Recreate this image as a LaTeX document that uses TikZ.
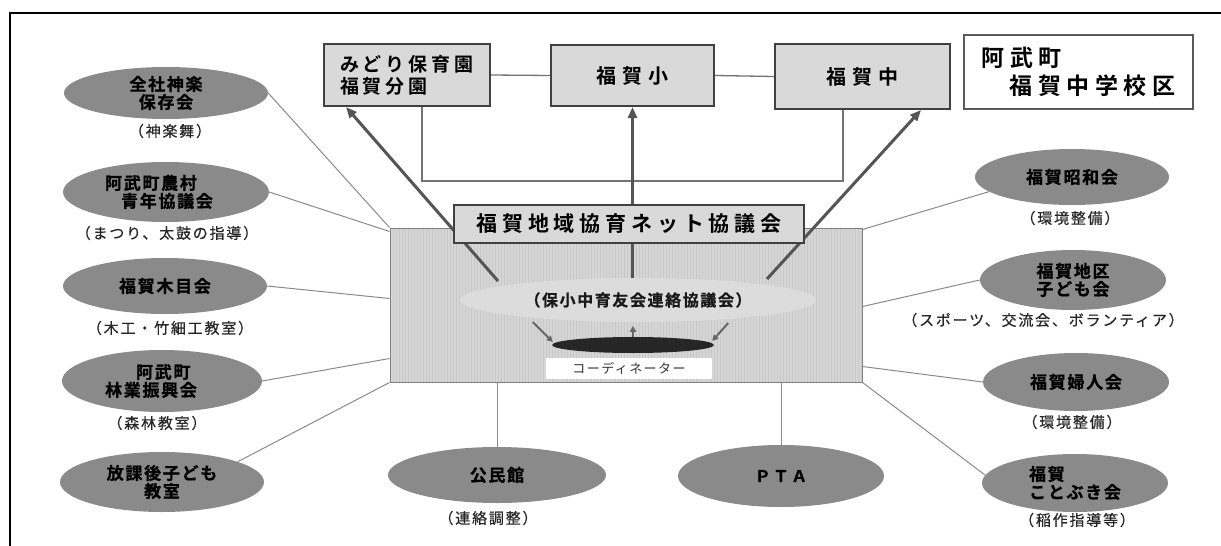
\documentclass[tikz,border=0pt]{standalone}
\usepackage{fontspec}
\usetikzlibrary{arrows.meta,shapes.geometric,patterns,calc}
\newfontfamily\jpR{Noto Sans CJK JP}
\newfontfamily\jpB{Noto Sans CJK JP Bold}
\newcommand\fBoxA{\jpB\fontsize{19}{22}\selectfont\addfontfeature{LetterSpace=21}}
\newcommand\fBoxB{\jpB\fontsize{20}{22}\selectfont\addfontfeature{LetterSpace=28}}
\newcommand\fTitle{\jpB\fontsize{23}{28}\selectfont\addfontfeature{LetterSpace=24}}
\newcommand\fNet{\jpB\fontsize{21}{22}\selectfont\addfontfeature{LetterSpace=23}}
\newcommand\fEll{\jpB\fontsize{17}{18}\selectfont\addfontfeature{LetterSpace=10,FakeBold=0.8}}
\newcommand\fLab{\jpR\fontsize{15}{16}\selectfont\addfontfeature{LetterSpace=12,FakeBold=0.5}}
\newcommand\fLight{\jpB\fontsize{16}{18}\selectfont\addfontfeature{LetterSpace=10,FakeBold=0.8}}
\newcommand\fCoord{\jpR\fontsize{13}{16}\selectfont\addfontfeature{LetterSpace=11}}
\definecolor{ellgray}{HTML}{8A8A8A}
\definecolor{boxgray}{HTML}{D9D9D9}
\definecolor{boxline}{HTML}{404040}
\definecolor{hatchbg}{HTML}{D6D6D6}
\definecolor{hatchln}{HTML}{C8C8C8}
\definecolor{lightell}{HTML}{DCDCDC}
\definecolor{conn}{HTML}{8A8A8A}
\definecolor{arrowc}{HTML}{555555}
\begin{document}
\begin{tikzpicture}[x=1pt,y=-1pt,
  ell/.style={ellipse, fill=ellgray, draw=none, inner sep=0pt, text=black, font=\fEll},
  lab/.style={inner sep=0pt, text=black!85, font=\fLab},
  sbox/.style={rectangle, fill=boxgray, draw=boxline, line width=2pt, inner sep=0pt},
  conline/.style={draw=conn, line width=1pt},
  loopline/.style={draw=black!55, line width=1.3pt},
  bigarrow/.style={draw=arrowc, line width=3pt, -{Triangle[length=11pt,width=9pt]}},
  smallarrow/.style={draw=black!60, line width=2pt, -{Triangle[length=6pt,width=6pt]}}
]
\useasboundingbox (0,0) rectangle (1221,546);
% outer frame
\coordinate (fbl) at (10,546);
\coordinate (ftl) at (10,13);
\coordinate (ftr) at (1221,13);
\draw[line width=2pt, black] (fbl) -- (ftl) -- (ftr);

% hatched area
\node[rectangle, draw=black!50, line width=1pt, preaction={fill=hatchbg},
      pattern=vertical lines, pattern color=hatchln,
      minimum width=472pt, minimum height=154pt, inner sep=0pt] (hr) at (626,305) {};

% inner ellipses and coordinator box
\node[ellipse, fill=lightell, minimum width=356pt, minimum height=44pt, inner sep=0pt,
      font=\fLight, text=black!90] (le) at (638,300) {（保小中育友会連絡協議会）};
\node[ellipse, fill=black!85, minimum width=162pt, minimum height=16pt, inner sep=0pt] (be) at (633,345) {};
\node[rectangle, fill=white, minimum width=166pt, minimum height=21pt, inner sep=0pt,
      font=\fCoord, text=black!80] (cb) at (629,368.5) {コーディネーター};

% top boxes
\node[sbox, minimum width=166pt, minimum height=62pt, align=left, font=\fBoxA] (b1) at (407,75) {みどり保育園\\福賀分園};
\node[sbox, minimum width=163pt, minimum height=61pt, font=\fBoxB] (b2) at (632.5,75.5) {福賀小};
\node[sbox, minimum width=175pt, minimum height=65pt, font=\fBoxB] (b3) at (862.5,76.5) {福賀中};
\node[rectangle, fill=white, draw=black!65, line width=1.5pt, inner sep=0pt,
      minimum width=229pt, minimum height=74pt, align=left, font=\fTitle] (tt) at (1078.5,72)
      {阿武町\\\hspace*{28pt}福賀中学校区};

% left ellipses
\node[ell, minimum width=204pt, minimum height=52pt, align=center] (e1) at (166,93) {全社神楽\\保存会};
\node[ell, minimum width=206pt, minimum height=60pt, align=left] (e2) at (166,192) {阿武町農村\\\hspace*{16pt}青年協議会\hspace*{14pt}};
\node[ell, minimum width=204pt, minimum height=56pt] (e3) at (165,286) {福賀木目会};
\node[ell, minimum width=200pt, minimum height=62pt, align=left] (e4) at (162,381) {\hspace*{31pt}阿武町\\林業振興会\hspace*{22pt}};
\node[ell, minimum width=204pt, minimum height=60pt, align=center] (e5) at (162,482) {放課後子ども\\教室};

\node[lab] (l1) at (170,131) {（神楽舞）};
\node[lab] (l2) at (167,233) {（まつり、太鼓の指導）};
\node[lab] (l3) at (170,328) {（木工・竹細工教室）};
\node[lab] (l4) at (157,423) {（森林教室）};

% bottom ellipses
\node[ell, minimum width=218pt, minimum height=56pt] (k) at (497,475) {公民館};
\node[ell, minimum width=206pt, minimum height=62pt, font=\jpB\fontsize{16}{18}\selectfont\addfontfeature{LetterSpace=14,FakeBold=0.8}] (p) at (781,476) {ＰＴＡ};
\node[lab] (lk) at (488,518) {（連絡調整）};

% right ellipses
\node[ell, minimum width=194pt, minimum height=56pt] (r1) at (1072,177) {福賀昭和会};
\node[ell, minimum width=186pt, minimum height=60pt, align=center] (r2) at (1073,280) {福賀地区\\子ども会};
\node[ell, minimum width=186pt, minimum height=58pt] (r3) at (1076,382) {福賀婦人会};
\node[ell, minimum width=186pt, minimum height=58pt, align=left] (r4) at (1075,483) {福賀\\ことぶき会};

\node[lab] (lr1) at (1070,218) {（環境整備）};
\node[lab] (lr2) at (1043,320) {（スポーツ、交流会、ボランティア）};
\node[lab] (lr3) at (1072,422) {（環境整備）};
\node[lab] (lr4) at (1077,520) {（稲作指導等）};

% connectors from ellipses to the hatched area
\draw[conline] (e1.east) -- (hr.north west);
\draw[conline] (e2.east) -- ($(hr.north west)+(0,4)$);
\draw[conline] (e3.east) -- ($(hr.north west)+(0,71)$);
\draw[conline] (e4.east) -- ($(hr.north west)+(0,131)$);
\draw[conline] (e5.15) -- (hr.south west);
\draw[conline] (r1.190) -- ($(hr.north east)+(0,2)$);
\draw[conline] (r2.west) -- ($(hr.north east)+(0,79)$);
\draw[conline] (r3.west) -- ($(hr.north east)+(0,139)$);
\draw[conline] (r4.175) -- (hr.south east);
\draw[conline] (k.north |- hr.south) -- (k.north);
\draw[conline] (p.north |- hr.south) -- (p.north);

% lines between the top boxes
\draw[loopline] (b1.east) -- (b2.west);
\draw[loopline] (b2.east) -- (b3.west);
\coordinate (lp) at (630,181);
\draw[loopline] ($(b1.south west)+(99,0)$) |- (lp) -| ($(b3.south west)+(69,0)$);

% arrows from the council
\coordinate (a1s) at (498,281);
\coordinate (a3s) at (767,279);
\draw[bigarrow] (a1s) -- ($(b1.south west)+(23,0)$);
\draw[bigarrow] (b2.south |- le.north) -- (b2.south);
\draw[bigarrow] (a3s) -- ($(b3.south east)+(-30,0)$);

% small arrows to the coordinator
\draw[smallarrow] ($(be.west)+(-19,-23)$) -- ($(be.west)+(1,-3)$);
\draw[smallarrow] ($(be.east)+(14,-22)$) -- ($(be.east)+(-2,-4)$);
\draw[smallarrow] (be.north) -- ++(0,-11);

% network council box
\node[sbox, minimum width=350pt, minimum height=38pt, font=\fNet] (nw) at (629,224) {福賀地域協育ネット協議会};
\end{tikzpicture}
\end{document}
